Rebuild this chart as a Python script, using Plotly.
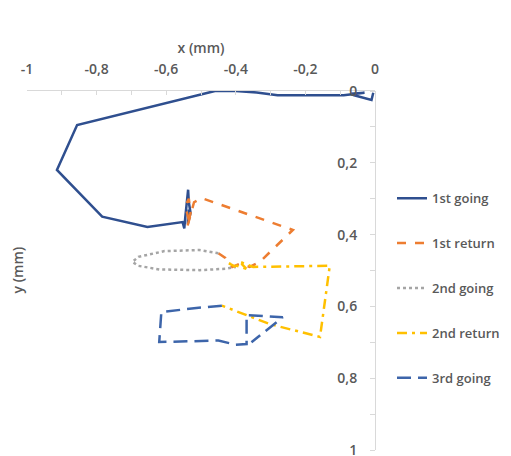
import plotly.graph_objects as go

# ---- data (mm) ----
going1_x = [-0.005, -0.01, -0.06, -0.07, -0.03, -0.09, -0.28, -0.34, -0.40, -0.46,
            -0.856, -0.914, -0.784, -0.654, -0.553, -0.548, -0.545, -0.54, -0.537,
            -0.535, -0.53, -0.538, -0.535]
going1_y = [0.005, 0.025, 0.012, 0.008, 0.005, 0.012, 0.012, 0.004, 0.0, 0.0,
            0.095, 0.22, 0.35, 0.379, 0.365, 0.383, 0.35, 0.30, 0.275,
            0.31, 0.34, 0.37, 0.33]

return1_x = [-0.535, -0.545, -0.535, -0.53, -0.54, -0.525, -0.52, -0.499, -0.236,
             -0.331, -0.36, -0.39, -0.41, -0.43, -0.45]
return1_y = [0.36, 0.32, 0.30, 0.34, 0.38, 0.33, 0.31, 0.298, 0.387,
             0.476, 0.49, 0.482, 0.49, 0.465, 0.452]

going2_x = [-0.45, -0.505, -0.605, -0.68, -0.697, -0.68, -0.62, -0.504, -0.43, -0.40]
going2_y = [0.452, 0.443, 0.446, 0.462, 0.476, 0.487, 0.497, 0.499, 0.495, 0.49]

return2_x = [-0.40, -0.42, -0.37, -0.39, -0.35, -0.13, -0.158, -0.30, -0.44]
return2_y = [0.49, 0.48, 0.495, 0.475, 0.49, 0.487, 0.685, 0.65, 0.598]

going3_x = [-0.44, -0.52, -0.614, -0.62, -0.52, -0.45, -0.40, -0.369, -0.369,
            -0.265, -0.355]
going3_y = [0.598, 0.605, 0.616, 0.699, 0.697, 0.695, 0.707, 0.705, 0.624,
            0.63, 0.70]

names = ["1st going", "1st return", "2nd going", "2nd return", "3rd going"]
colors = ["#2F4F8F", "#ED7D31", "#A5A5A5", "#FFC000", "#3D65AA"]
dashes = ["solid", "dash", "dot", "10px,5px,3px,5px", "14px,7px"]

x_ticks = [-1, -0.8, -0.6, -0.4, -0.2, 0]
x_ticktext = ["-1", "-0,8", "-0,6", "-0,4", "-0,2", "0"]
y_ticks = [0, 0.2, 0.4, 0.6, 0.8, 1]
y_ticktext = ["0", "0,2", "0,4", "0,6", "0,8", "1"]

series = [(going1_x, going1_y), (return1_x, return1_y), (going2_x, going2_y),
          (return2_x, return2_y), (going3_x, going3_y)]

fig = go.Figure()
for i, ((xs, ys), n, c, d) in enumerate(zip(series, names, colors, dashes)):
    fig.add_trace(go.Scatter(
        x=xs, y=ys, mode="lines", name=n, legendgroup=n,
        line=dict(color=c, width=2.5, dash=d),
    ))

font = dict(family="Open Sans, Liberation Sans, sans-serif", size=14, color="#595959", weight=600)
legend_font = dict(family="Open Sans, Liberation Sans, sans-serif", size=13, color="#595959", weight=600)

# page body has an 8px default margin: compensate
W, H = 503, 448
L, T = 19, 83
pw, ph = 348, 359
R = W - L - pw
B = H - T - ph

fig.update_layout(
    width=W, height=H,
    margin=dict(l=L, r=R, t=T, b=B, autoexpand=False),
    paper_bgcolor="white", plot_bgcolor="white",
    font=font,
    separators=", ",
    showlegend=True,
    legend=dict(x=(384 - L) / pw, xanchor="left", y=0.743, yanchor="top",
                tracegroupgap=25, itemwidth=30, font=legend_font,
                bgcolor="rgba(0,0,0,0)"),
    xaxis=dict(
        range=[-1, 0], side="top", showgrid=False, zeroline=False,
        showline=True, linecolor="#D9D9D9", linewidth=1,
        tickvals=x_ticks, ticktext=x_ticktext,
        ticks="inside", ticklen=4, tickcolor="#D9D9D9",
        ticklabelstandoff=10, ticklabeloverflow="allow",
        minor=dict(dtick=0.1, ticks="inside", ticklen=4, tickcolor="#D9D9D9"),
        title=dict(text="x (mm)", standoff=2, font=font),
        automargin=False,
        fixedrange=True,
    ),
    yaxis=dict(
        range=[1, 0], anchor="free", position=1, side="left",
        showgrid=False, zeroline=False,
        showline=True, linecolor="#D9D9D9", linewidth=1,
        tickvals=y_ticks, ticktext=y_ticktext,
        ticks="outside", ticklen=5, tickcolor="#D9D9D9",
        ticklabelstandoff=10, ticklabeloverflow="allow",
        minor=dict(dtick=0.1, ticks="outside", ticklen=5, tickcolor="#D9D9D9"),
        title=dict(text=""),
        automargin=False,
        fixedrange=True,
    ),
    annotations=[dict(text="y (mm)", textangle=-90, x=(9 - L) / pw, xref="paper",
                      xanchor="center", y=0.5, yref="paper", yanchor="middle",
                      showarrow=False, font=font)],
)

fig.write_html("out.html")
